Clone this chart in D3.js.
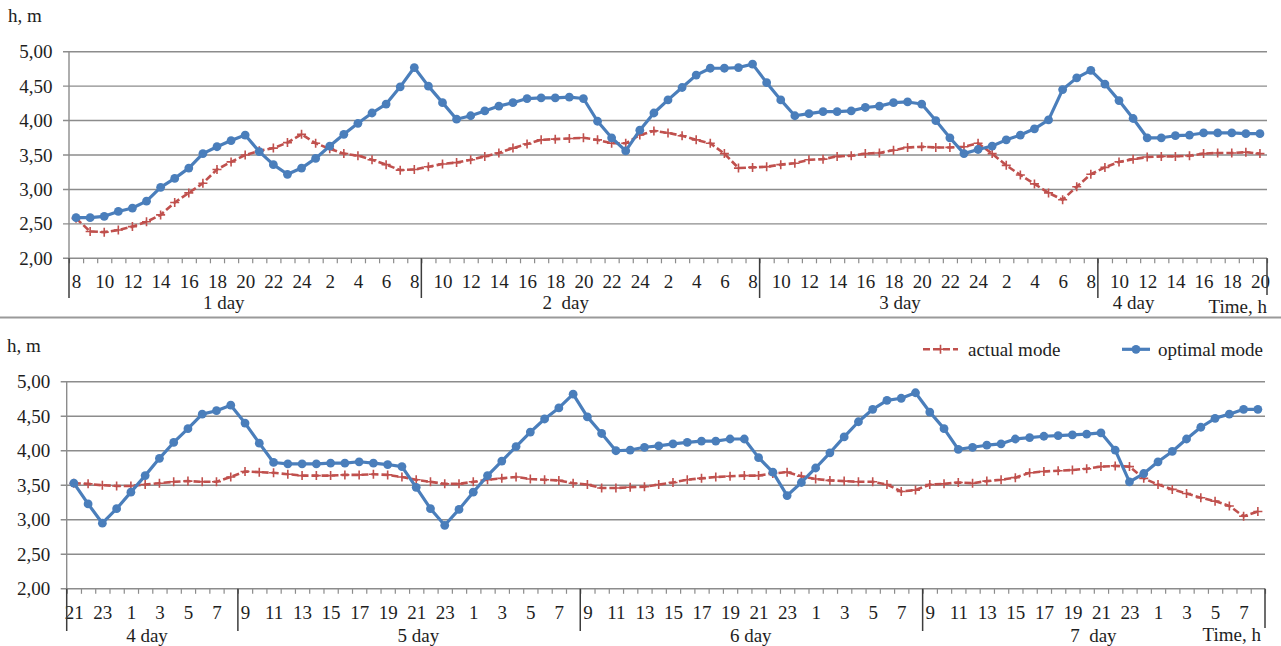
<!DOCTYPE html>
<html>
<head>
<meta charset="utf-8">
<script src="https://cdn.jsdelivr.net/npm/d3@7"></script>
<style>
  html, body { margin: 0; padding: 0; background: #fff; }
  svg { display: block; }
  svg text { font-family: "Liberation Serif", "Times New Roman", Times, "DejaVu Serif", serif !important; fill: #1e1e1e; }
</style>
</head>
<body>
<svg id="chart" width="1281" height="646"></svg>
<script>
// ---- Water level h (m), hourly, days 1–4 ----
const topHours = [
  8, 9, 10, 11, 12, 13, 14, 15, 16, 17, 18, 19, 20, 21, 22, 23, 24, 1, 2, 3, 4, 5, 6, 7, 8,
  9, 10, 11, 12, 13, 14, 15, 16, 17, 18, 19, 20, 21, 22, 23, 24, 1, 2, 3, 4, 5, 6, 7, 8,
  9, 10, 11, 12, 13, 14, 15, 16, 17, 18, 19, 20, 21, 22, 23, 24, 1, 2, 3, 4, 5, 6, 7, 8,
  9, 10, 11, 12, 13, 14, 15, 16, 17, 18, 19, 20
];
const topActual = [
  2.58, 2.39, 2.38, 2.41, 2.46, 2.53, 2.63, 2.81, 2.95, 3.09, 3.29, 3.40, 3.50, 3.56, 3.60, 3.68, 3.80, 3.67, 3.59, 3.52, 3.49, 3.43, 3.36, 3.28, 3.29,
  3.33, 3.37, 3.39, 3.43, 3.48, 3.53, 3.60, 3.66, 3.72, 3.73, 3.74, 3.75, 3.72, 3.67, 3.67, 3.79, 3.85, 3.82, 3.78, 3.72, 3.67, 3.52, 3.31, 3.32,
  3.33, 3.36, 3.38, 3.43, 3.44, 3.48, 3.49, 3.52, 3.53, 3.57, 3.61, 3.62, 3.61, 3.61, 3.62, 3.67, 3.52, 3.35, 3.21, 3.08, 2.95, 2.85, 3.04, 3.22,
  3.32, 3.40, 3.44, 3.47, 3.48, 3.48, 3.49, 3.52, 3.53, 3.53, 3.54, 3.52
];
const topOptimal = [
  2.59, 2.59, 2.61, 2.68, 2.73, 2.83, 3.03, 3.16, 3.31, 3.52, 3.62, 3.71, 3.79, 3.55, 3.36, 3.22, 3.31, 3.45, 3.63, 3.80, 3.96, 4.11, 4.24, 4.49, 4.77,
  4.50, 4.26, 4.02, 4.07, 4.14, 4.21, 4.26, 4.32, 4.33, 4.33, 4.34, 4.32, 3.99, 3.75, 3.56, 3.86, 4.11, 4.30, 4.48, 4.66, 4.76, 4.76, 4.77, 4.82,
  4.55, 4.30, 4.07, 4.10, 4.13, 4.13, 4.14, 4.19, 4.21, 4.26, 4.27, 4.24, 4.00, 3.75, 3.52, 3.58, 3.63, 3.72, 3.79, 3.88, 4.01, 4.45, 4.62, 4.73,
  4.53, 4.29, 4.03, 3.75, 3.75, 3.78, 3.79, 3.82, 3.82, 3.82, 3.81, 3.81
];
const topDays = ["1 day", "2  day", "3 day", "4 day"];
const topDayLengths = [25, 24, 24, 12];

// ---- Water level h (m), hourly, days 4–7 ----
const bottomHours = [
  21, 22, 23, 24, 1, 2, 3, 4, 5, 6, 7, 8,
  9, 10, 11, 12, 13, 14, 15, 16, 17, 18, 19, 20, 21, 22, 23, 24, 1, 2, 3, 4, 5, 6, 7, 8,
  9, 10, 11, 12, 13, 14, 15, 16, 17, 18, 19, 20, 21, 22, 23, 24, 1, 2, 3, 4, 5, 6, 7, 8,
  9, 10, 11, 12, 13, 14, 15, 16, 17, 18, 19, 20, 21, 22, 23, 24, 1, 2, 3, 4, 5, 6, 7, 8
];
const bottomActual = [
  3.53, 3.52, 3.50, 3.49, 3.49, 3.51, 3.53, 3.55, 3.56, 3.55, 3.55, 3.62, 3.70, 3.69, 3.68, 3.66, 3.64, 3.64, 3.64, 3.65, 3.65, 3.66, 3.65, 3.62, 3.58, 3.55,
  3.52, 3.52, 3.55, 3.58, 3.60, 3.62, 3.59, 3.58, 3.57, 3.53, 3.51, 3.46, 3.46, 3.47, 3.48, 3.51, 3.54, 3.58, 3.60, 3.62, 3.63, 3.64, 3.64, 3.67, 3.69, 3.63, 3.59, 3.57, 3.56,
  3.55, 3.55, 3.51, 3.41, 3.43, 3.51, 3.52, 3.54, 3.53, 3.56, 3.58, 3.61, 3.68, 3.70, 3.71, 3.72, 3.74, 3.77, 3.78, 3.77, 3.60, 3.51, 3.44, 3.38, 3.32, 3.27, 3.20, 3.05, 3.12
];
const bottomOptimal = [
  3.53, 3.23, 2.95, 3.16, 3.40, 3.64, 3.89, 4.12, 4.32, 4.53, 4.58, 4.66, 4.40, 4.11, 3.83, 3.81, 3.81, 3.81, 3.82, 3.82, 3.84, 3.82, 3.80, 3.77, 3.47, 3.16,
  2.92, 3.15, 3.40, 3.64, 3.85, 4.06, 4.27, 4.46, 4.62, 4.82, 4.49, 4.25, 4.00, 4.01, 4.05, 4.07, 4.10, 4.12, 4.14, 4.14, 4.17, 4.17, 3.90, 3.69, 3.35, 3.54, 3.75, 3.97, 4.20,
  4.42, 4.60, 4.73, 4.76, 4.84, 4.56, 4.32, 4.02, 4.05, 4.08, 4.10, 4.17, 4.19, 4.21, 4.22, 4.23, 4.24, 4.26, 4.01, 3.55, 3.67, 3.84, 3.99, 4.17, 4.34, 4.47, 4.53, 4.60, 4.60
];
const bottomDays = ["4 day", "5 day", "6 day", "7  day"];
const bottomDayLengths = [12, 24, 24, 24];

const yTicks = [2.0, 2.5, 3.0, 3.5, 4.0, 4.5, 5.0];
const seriesNames = ["actual mode", "optimal mode"];
const yTitle = "h, m";
const xTitle = "Time, h";

// ---- styling ----
const RED = "#c0504d";
const BLUE = "#4a7ebb";
const GRID = "#8c8c8c";
const FONT = 19;
const SERIF = "'Liberation Serif', 'Times New Roman', Times, 'DejaVu Serif', serif";

const svg = d3.select("#chart");
const fmt = d3.formatLocale({ decimal: ",", thousands: " ", grouping: [3], currency: ["", ""] }).format(".2f");

function styleText(sel) {
  return sel.attr("font-size", FONT).style("font-family", SERIF).attr("fill", "#1e1e1e");
}

function drawPanel(p) {
  const n = p.hours.length;
  const x = d3.scaleLinear().domain([0, n]).range([p.left, p.right]);
  const y = d3.scaleLinear().domain([2, 5]).range([p.y2, p.y5]);
  const g = svg.append("g");

  // horizontal gridlines (with short outer tick)
  g.append("g").selectAll("line").data(yTicks).join("line")
    .attr("x1", p.left - 6).attr("x2", p.right)
    .attr("y1", d => y(d)).attr("y2", d => y(d))
    .attr("stroke", GRID).attr("stroke-width", 1.4);

  // y axis labels
  const yAxis = g.append("g").attr("transform", `translate(${p.left},0)`)
    .call(d3.axisLeft(y).tickValues(yTicks).tickFormat(fmt).tickSize(6).tickPadding(10.5));
  yAxis.attr("font-family", null).attr("font-size", null);
  yAxis.select(".domain").remove();
  yAxis.selectAll(".tick line").remove();
  styleText(yAxis.selectAll("text"));

  // y axis line
  g.append("line").attr("x1", p.left).attr("x2", p.left).attr("y1", p.y5).attr("y2", p.y2)
    .attr("stroke", GRID).attr("stroke-width", 1.4);

  // minor ticks on category boundaries
  const tickAxis = g.append("g").attr("transform", `translate(0,${p.y2})`)
    .call(d3.axisBottom(x).tickValues(d3.range(0, n + 1)).tickSize(5).tickFormat(""));
  tickAxis.select(".domain").remove();
  tickAxis.selectAll(".tick line").attr("stroke", GRID).attr("stroke-width", 1.2);

  // hour labels every second category
  const labelIdx = d3.range(0, n, 2);
  const xAxis = g.append("g").attr("transform", `translate(0,${p.y2})`)
    .call(d3.axisBottom(x).tickValues(labelIdx.map(i => i + 0.5))
      .tickFormat(v => p.hours[Math.round(v - 0.5)]).tickSize(0).tickPadding(16.5));
  xAxis.attr("font-family", null).attr("font-size", null);
  xAxis.select(".domain").remove();
  styleText(xAxis.selectAll("text"));

  // day group boundaries
  const bounds = [0];
  p.dayLengths.forEach(len => bounds.push(bounds[bounds.length - 1] + len));
  g.append("g").selectAll("line").data(bounds).join("line")
    .attr("x1", d => x(d)).attr("x2", d => x(d))
    .attr("y1", p.y2).attr("y2", (d, i) => i === bounds.length - 1 ? p.groupBottom - 3 : p.groupBottom)
    .attr("stroke", "#3c3c3c").attr("stroke-width", 1.5);

  // day labels
  styleText(g.append("g").selectAll("text").data(p.days).join("text")
    .attr("x", (d, i) => x(p.dayAt[i]))
    .attr("y", p.dayBaseline)
    .attr("text-anchor", "middle")
    .style("white-space", "pre")
    .text(d => d));

  // axis titles
  styleText(g.append("text").attr("x", p.yTitleX).attr("y", p.yTitleY).text(yTitle));
  styleText(g.append("text").attr("x", p.timeX).attr("y", p.timeY).attr("text-anchor", "end").text(xTitle));

  const cx = (d, i) => x(i + 0.5);

  // actual mode: dashed red line with plus markers
  const lineGen = d3.line().x(cx).y(d => y(d));
  g.append("path").datum(p.actual).attr("d", lineGen)
    .attr("fill", "none").attr("stroke", RED).attr("stroke-width", 2.6)
    .attr("stroke-dasharray", "7,3").attr("stroke-linejoin", "round");
  g.append("g").selectAll("path").data(p.actual).join("path")
    .attr("transform", (d, i) => `translate(${cx(d, i)},${y(d)})`)
    .attr("d", "M-4.5,0H4.5M0,-4.5V4.5")
    .attr("stroke", RED).attr("stroke-width", 1.6).attr("fill", "none");

  // optimal mode: solid blue line with circle markers
  g.append("path").datum(p.optimal).attr("d", lineGen)
    .attr("fill", "none").attr("stroke", BLUE).attr("stroke-width", 3.2).attr("stroke-linejoin", "round");
  g.append("g").selectAll("circle").data(p.optimal).join("circle")
    .attr("cx", cx).attr("cy", d => y(d)).attr("r", 4.4)
    .attr("fill", BLUE);
}

drawPanel({
  hours: topHours, actual: topActual, optimal: topOptimal,
  days: topDays, dayLengths: topDayLengths, dayAt: [10.98, 35.25, 58.96, 75.54],
  left: 69, right: 1267, y5: 51.7, y2: 258.3,
  groupBottom: 298, dayBaseline: 308.5,
  yTitleX: 8, yTitleY: 22, timeX: 1267, timeY: 312.5
});

drawPanel({
  hours: bottomHours, actual: bottomActual, optimal: bottomOptimal,
  days: bottomDays, dayLengths: bottomDayLengths, dayAt: [5.63, 24.65, 47.95, 71.97],
  left: 66.7, right: 1265, y5: 381.7, y2: 588.8,
  groupBottom: 631, dayBaseline: 642,
  yTitleX: 7, yTitleY: 352, timeX: 1261, timeY: 641
});

// divider between the two panels
svg.append("line").attr("x1", 0).attr("x2", 1281).attr("y1", 317.5).attr("y2", 317.5)
  .attr("stroke", "#9a9a9a").attr("stroke-width", 2);

// legend
const legY = 349.3;
const leg = svg.append("g");
leg.append("line").attr("x1", 923).attr("x2", 958).attr("y1", legY).attr("y2", legY)
  .attr("stroke", RED).attr("stroke-width", 2.6).attr("stroke-dasharray", "7,3");
leg.append("path").attr("transform", `translate(940.5,${legY})`).attr("d", "M-4.5,0H4.5M0,-4.5V4.5")
  .attr("stroke", RED).attr("stroke-width", 1.6);
styleText(leg.append("text").attr("x", 968).attr("y", 356).text(seriesNames[0]));
leg.append("line").attr("x1", 1122).attr("x2", 1150).attr("y1", legY).attr("y2", legY)
  .attr("stroke", BLUE).attr("stroke-width", 3.2);
leg.append("circle").attr("cx", 1136).attr("cy", legY).attr("r", 4.4).attr("fill", BLUE);
styleText(leg.append("text").attr("x", 1158).attr("y", 356).text(seriesNames[1]));
</script>
</body>
</html>
